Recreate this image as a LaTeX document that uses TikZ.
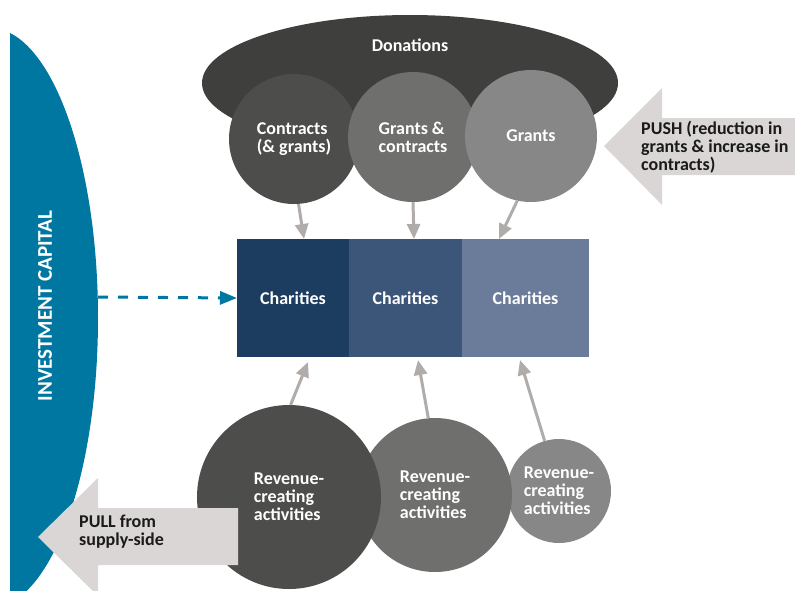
\documentclass[tikz,border=0pt]{standalone}
\usepackage{fontspec}
\setmainfont{Carlito}
\usetikzlibrary{arrows.meta,%
                shapes.geometric,%
                positioning}

\definecolor{capblue}{HTML}{0077A0}
\definecolor{dongray}{HTML}{3F3F3E}
\definecolor{cdark}{HTML}{4D4D4C}
\definecolor{cmid}{HTML}{6F6F6E}
\definecolor{clight}{HTML}{878787}
\definecolor{boxa}{HTML}{1C3C60}
\definecolor{boxb}{HTML}{3C5679}
\definecolor{boxc}{HTML}{6B7C9B}
\definecolor{feedgray}{HTML}{B0ACAA}
\definecolor{blockgray}{HTML}{D9D6D5}
\definecolor{pushtext}{HTML}{1A1A1A}

\begin{document}
\begin{tikzpicture}[x=1pt, y=-1pt,
  txt/.style={font=\fontsize{18}{18}\selectfont\bfseries, text=white, align=left, inner sep=0pt},
  blob/.style={circle, txt},
  cbox/.style={rectangle, minimum height=118pt, outer sep=0pt, txt},
  feed/.style={draw=feedgray, line width=3pt, -{Triangle[length=15pt,width=13pt]}}]
\useasboundingbox (0,0) rectangle (795,590);
\clip (0,0) rectangle (795,590);

\begin{scope}
\clip (10,0) rectangle (200,590);
\fill[capblue] (-10,318) ellipse [x radius=108, y radius=290];
\end{scope}
\node[txt, rotate=90, font=\fontsize{21}{21}\selectfont\bfseries] (cap) at (45,306) {INVESTMENT CAPITAL};

\node[ellipse, fill=dongray, minimum width=416pt, minimum height=136pt, inner sep=0pt] (don) at (410,83) {};
\node[txt] (dontxt) at ([yshift=-30pt]don.north) {Donations};

\node[blob, fill=cdark, minimum size=130pt] (con) at (294,139) {Contracts\\(\& grants)};
\node[blob, fill=cmid, minimum size=130pt] (gac) at (413,137) {Grants \&\\contracts};
\node[blob, fill=clight, minimum size=132pt] (gra) at (531,136) {Grants};

\node[cbox, fill=boxa, minimum width=112pt] (ch1) at (293,298) {Charities};
\node[cbox, fill=boxb, minimum width=113pt, right=0pt of ch1] (ch2) {Charities};
\node[cbox, fill=boxc, minimum width=127pt, right=0pt of ch2] (ch3) {Charities};

\draw[feed] (con.274) -- ([xshift=11pt]ch1.north);
\draw[feed] (gac.south) -- ([xshift=8.5pt]ch2.north);
\draw[feed] (gra.258) -- ([xshift=-26.5pt]ch3.north);

\node[blob, fill=clight, minimum size=104pt] (rv3) at (559,491) {Revenue-\\creating\\activities};
\node[blob, fill=cmid, minimum size=154pt] (rv2) at (435,495) {Revenue-\\creating\\activities};
\node[blob, fill=cdark, minimum size=184pt] (rv1) at (289,497) {Revenue-\\creating\\activities};

\draw[feed] (rv1.89) -- ([xshift=15pt,yshift=-5pt]ch1.south);
\draw[feed] (rv2.95) -- ([xshift=12.5pt,yshift=-3pt]ch2.south);
\draw[feed] (rv3.106) -- ([xshift=-5.5pt,yshift=-3pt]ch3.south);

\fill[blockgray] (38,537) -- (98,478) -- (98,508) -- (238,508) -- (238,565) -- (98,565) -- (98,596) -- cycle;
\node[txt, text=pushtext, anchor=west] (pull) at (79,532) {PULL from\\supply-side};

\fill[blockgray] (604,146) -- (662,88) -- (662,118) -- (795,118) -- (795,175) -- (662,175) -- (662,205) -- cycle;
\node[txt, text=pushtext, anchor=west] (push) at (641,147) {PUSH (reduction in\\grants \& increase in\\contracts)};

\coordinate (capedge) at (98,297);
\draw[capblue, line width=3pt, dash pattern=on 10pt off 10pt, -{Triangle[length=17pt,width=13pt]}] (capedge) -- (ch1.west);

\end{tikzpicture}
\end{document}
